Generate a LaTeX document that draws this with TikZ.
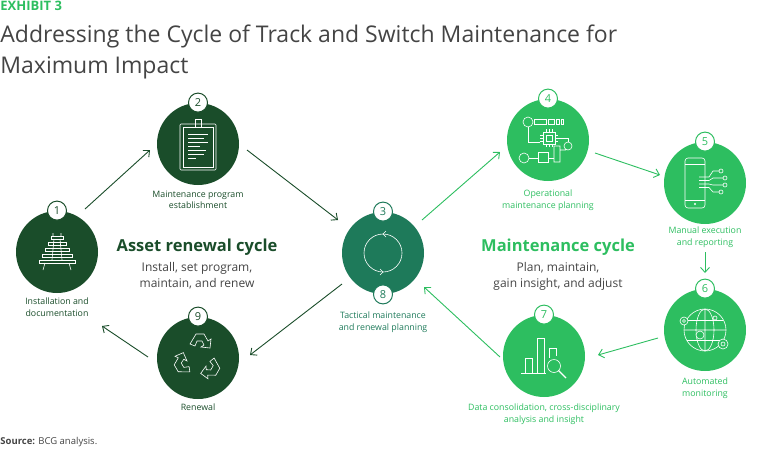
\documentclass[tikz,border=0pt]{standalone}
\usepackage{fontspec}
\setmainfont{Open Sans}
\usetikzlibrary{arrows.meta, positioning}
\definecolor{dkgreen}{HTML}{1A4D2A}
\definecolor{tealgreen}{HTML}{1E7A5A}
\definecolor{brgreen}{HTML}{2DBE60}
\definecolor{greytext}{HTML}{444444}
\begin{document}
\begin{tikzpicture}[x=1pt, y=-1pt, thick,
  stage/.style={circle, minimum size=82pt, inner sep=0pt},
  badge/.style={circle, draw=#1, line width=1pt, fill=white, minimum size=19pt, inner sep=0pt, font=\fontsize{11}{12}\selectfont, text=#1},
  lbl/.style={align=center, font=\fontsize{8.8}{11.5}\selectfont, text=#1},
  flow/.style={draw=#1, line width=0.9pt, -{Straight Barb[length=5pt, width=9pt]}},
  icon/.style={draw=white, line width=0.6pt}]
\useasboundingbox (0,0) rectangle (768,448);
% heading
\node[anchor=north west, inner sep=0pt, text=brgreen, font=\bfseries\fontsize{13}{15}\selectfont] (exhibit) at (0,1) {EXHIBIT 3};
\node[anchor=north west, inner sep=0pt, align=left, text=greytext, font=\fontsize{23}{31}\selectfont] (title) at (0,24) {Addressing the Cycle of Track and Switch Maintenance for\\Maximum Impact};
\node[anchor=south west, inner sep=0pt, font=\fontsize{9.5}{11}\selectfont, text=greytext] (source) at (0,447) {\textbf{Source:} BCG analysis.};
% stages
\node[stage, fill=dkgreen] (s1) at (57,252) {};
\node[stage, fill=dkgreen] (s2) at (198,144) {};
\node[stage, fill=tealgreen] (s3) at (383,253) {};
\node[stage, fill=brgreen] (s4) at (548,140) {};
\node[stage, fill=brgreen] (s5) at (705,183) {};
\node[stage, fill=brgreen] (s6) at (705,330) {};
\node[stage, fill=brgreen] (s7) at (544,356) {};
\node[stage, fill=dkgreen] (s9) at (198,358) {};
% badges
\node[badge=dkgreen] (b1) at (s1.north) {1};
\node[badge=dkgreen] (b2) at (s2.north) {2};
\node[badge=tealgreen] (b3) at (s3.north) {3};
\node[badge=tealgreen] (b8) at (s3.south) {8};
\node[badge=brgreen] (b4) at (s4.north) {4};
\node[badge=brgreen] (b5) at (s5.north) {5};
\node[badge=brgreen] (b6) at (s6.north) {6};
\node[badge=brgreen] (b7) at (s7.north) {7};
\node[badge=dkgreen] (b9) at (s9.north) {9};
% labels
\node[lbl=dkgreen] (l1) at (57,307) {Installation and\\documentation};
\node[lbl=dkgreen] (l2) at (198,200) {Maintenance program\\establishment};
\node[lbl=tealgreen] (l3) at (383,322) {Tactical maintenance\\and renewal planning};
\node[lbl=brgreen] (l4) at (548,200) {Operational\\maintenance planning};
\node[lbl=brgreen] (l5) at (705,237) {Manual execution\\and reporting};
\node[lbl=brgreen] (l6) at (705,388) {Automated\\monitoring};
\node[lbl=brgreen] (l7) at (544,414) {Data consolidation, cross-disciplinary\\analysis and insight};
\node[lbl=dkgreen] (l9) at (198,407) {Renewal};
% cycle titles
\node[align=center, text=dkgreen, font=\bfseries\fontsize{16.5}{18}\selectfont] (asset) at (197,247) {Asset renewal cycle};
\node[align=center, text=greytext, font=\fontsize{12}{15.5}\selectfont, below=0pt of asset] (assetsub) {Install, set program,\\maintain, and renew};
\node[align=center, text=brgreen, font=\bfseries\fontsize{16.5}{18}\selectfont] (maint) at (558,247) {Maintenance cycle};
\node[align=center, text=greytext, font=\fontsize{12}{15.5}\selectfont, below=0pt of maint] (maintsub) {Plan, maintain,\\gain insight, and adjust};
% connectors
\coordinate (a1) at (85,209); \coordinate (a2) at (150,150);
\coordinate (a3) at (247,150); \coordinate (a4) at (338,220);
\coordinate (a5) at (422,220); \coordinate (a6) at (500,152);
\coordinate (a7) at (595,153); \coordinate (a8) at (660,175);
\coordinate (a9) at (705,252); \coordinate (a10) at (705,273);
\coordinate (a11) at (658,338); \coordinate (a12) at (598,355);
\coordinate (a13) at (500,357); \coordinate (a14) at (424,287);
\coordinate (a15) at (342,284); \coordinate (a16) at (250,355);
\coordinate (a17) at (148,357); \coordinate (a18) at (102,326);
\draw[flow=dkgreen] (a1) -- (a2);
\draw[flow=dkgreen] (a3) -- (a4);
\draw[flow=brgreen] (a5) -- (a6);
\draw[flow=brgreen] (a7) -- (a8);
\draw[flow=brgreen] (a9) -- (a10);
\draw[flow=brgreen] (a11) -- (a12);
\draw[flow=brgreen] (a13) -- (a14);
\draw[flow=dkgreen] (a15) -- (a16);
\draw[flow=dkgreen] (a17) -- (a18);
% icon 1: track
\begin{scope}[shift={(s1.center)}, icon]
  \foreach \w/\y in {6/-16, 9/-10, 12/-4, 15/2, 18/8} \draw (-\w,\y) rectangle (\w,\y+3);
  \draw (-4,-19) -- (-4,-16) (4,-19) -- (4,-16) (-12,11) -- (-14,18) (12,11) -- (14,18);
  \draw (-3,-13) -- (-5,8) (3,-13) -- (5,8);
\end{scope}
% icon 2: clipboard
\begin{scope}[shift={(s2.center)}, icon]
  \draw[rounded corners=1pt] (-18,-20) rectangle (18,26);
  \draw (-15,-17) rectangle (15,23);
  \draw (-3,-25) rectangle (3,-17);
  \foreach \y/\l in {-10/20, -6/16, -2/20, 2/12, 6/18, 10/16, 14/8} \draw (-10,\y) -- (-10+\l,\y);
\end{scope}
% icon 3: cycle arrows
\begin{scope}[shift={(s3.center)}, icon]
  \draw (0,0) circle (19);
  \draw (3,-22) -- (0,-19) -- (3,-16);
  \draw (-3,16) -- (0,19) -- (-3,22);
\end{scope}
% icon 9: recycle
\begin{scope}[shift={(s9.center)}, icon]
  \foreach \a in {0,120,240} {
    \begin{scope}[rotate=\a]
      \draw (-8,-14) -- (-2,-24) -- (6,-24) -- (10,-17) -- (13,-19) -- (12,-10) -- (3,-11) -- (6,-13) -- (4,-17) -- (-1,-17) -- (-3,-12) -- cycle;
    \end{scope}}
\end{scope}
% icon 4: circuit
\begin{scope}[shift={(s4.center)}, icon]
  \draw (-20,-18) circle (5);
  \draw (-14,-21) rectangle (-2,-16) (0,-21) rectangle (6,-16) (8,-21) rectangle (11,-16) (13,-21) rectangle (15,-16);
  \draw (-5,-8) rectangle (7,4) (-2,-5) rectangle (4,1);
  \foreach \i in {-3,0,3} \draw (1+\i,-8) -- (1+\i,-11) (1+\i,4) -- (1+\i,7) (-5,-2+\i) -- (-8,-2+\i) (7,-2+\i) -- (10,-2+\i);
  \draw (-20,-13) -- (-20,2) -- (-8,2);
  \draw (-24,18) circle (5);
  \draw (-19,18) -- (-10,18) (-10,12) rectangle (0,22) (0,18) -- (6,18);
  \draw (6,6) rectangle (12,22) (12,10) -- (18,10) (20,6) circle (4);
  \draw (10,-2) -- (20,-2) -- (20,2);
\end{scope}
% icon 5: phone
\begin{scope}[shift={(s5.center)}, icon]
  \draw[rounded corners=3pt] (-20,-25) rectangle (0,25);
  \draw (-20,-19) -- (0,-19) (-20,17) -- (0,17);
  \fill[white] (-10,21) circle (1.2);
  \foreach \y/\x in {-12/14, -5/18, 2/18, 9/14} {
    \draw (-6,\y/2) -- (4,\y/2) -- (8,\y) -- (\x,\y);
    \draw (\x+2,\y) circle (2);}
\end{scope}
% icon 6: globe
\begin{scope}[shift={(s6.center)}, icon]
  \draw (0,0) circle (21);
  \draw (0,0) ellipse (9 and 21) (-21,0) -- (21,0) (0,-21) -- (0,21);
  \draw (-18,-10) -- (18,-10) (-18,10) -- (18,10);
  \draw[fill=brgreen] (-21,-9) circle (4) (-21,-9) circle (1.5);
  \draw[fill=brgreen] (18,14) circle (5) (18,14) circle (2);
  \draw[fill=brgreen] (-5,5) circle (4);
  \draw[fill=brgreen] (10,-12) circle (2);
\end{scope}
% icon 7: chart
\begin{scope}[shift={(s7.center)}, icon]
  \draw (-19,2) -- (-19,17) -- (-12,17) -- (-12,2) -- cycle;
  \draw (-7,-18) rectangle (0,17);
  \draw (5,-8) -- (5,2) (12,-8) -- (5,-8) (12,-8) -- (12,0);
  \draw (-23,17) -- (2,17);
  \draw (10,10) circle (6.5);
  \draw[line width=1.2pt] (14.5,14.5) -- (22,22);
\end{scope}
\end{tikzpicture}
\end{document}
